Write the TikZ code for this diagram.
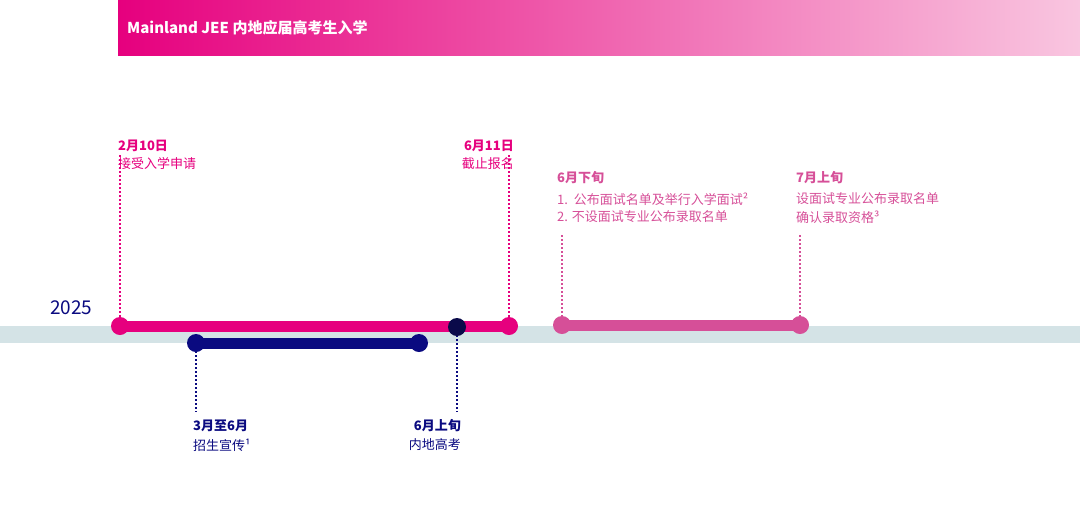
\documentclass[tikz,border=0pt]{standalone}
\usepackage{fontspec}
\setmainfont{Noto Sans CJK SC}
\usetikzlibrary{shadings}
\definecolor{hot}{HTML}{E6007E}
\definecolor{pk}{HTML}{D64F98}
\definecolor{navy}{HTML}{0A0A80}
\definecolor{dnavy}{HTML}{0A0A4A}
\definecolor{band}{HTML}{D4E3E6}
\definecolor{lite}{HTML}{F9C6E0}
\tikzset{x=1pt,y=-1pt,
 lbl/.style={inner sep=0pt,font=\fontsize{13}{15}\selectfont},
 dots/.style={line width=2pt,dash pattern=on 2pt off 2pt},
 bar/.style={line width=11pt,line cap=round}}
\begin{document}
\begin{tikzpicture}
\useasboundingbox (0,0) rectangle (1080,507);
\shade[left color=hot,right color=lite] (118,0) rectangle (1080,55);
\node[anchor=west,text=white,inner sep=0pt,font=\bfseries\fontsize{15}{17}\selectfont] (title) at (127,28) {Mainland JEE 内地应届高考生入学};
\fill[band] (0,326) rectangle (1080,343);
\node[anchor=west,text=navy,inner sep=0pt,font=\fontsize{19}{21}\selectfont] (yr) at (50,308) {2025};
% coordinates
\coordinate (a) at (120,326); \coordinate (b) at (509,326);
\coordinate (c) at (196,343); \coordinate (d) at (419,343);
\coordinate (e) at (562,325); \coordinate (f) at (800,325);
\coordinate (g) at (457,327);
\draw[dots,hot] (120,155) -- (a);
\draw[dots,hot] (509,155) -- (b);
\draw[dots,pk] (562,235) -- (e);
\draw[dots,pk] (800,235) -- (f);
\draw[dots,navy] (c) -- (196,412);
\draw[dots,navy] (g) -- (457,412);
\draw[bar,hot] (a) -- (b);
\draw[bar,navy] (c) -- (d);
\draw[bar,pk] (e) -- (f);
\fill[hot] (a) circle (9); \fill[hot] (b) circle (9);
\fill[navy] (c) circle (9); \fill[navy] (d) circle (9);
\fill[pk] (e) circle (9); \fill[pk] (f) circle (9);
\fill[dnavy] (g) circle (9);
% labels
\node[lbl,anchor=west,text=hot,font=\bfseries\fontsize{13}{15}\selectfont] (t1) at (118,146) {2月10日};
\node[lbl,anchor=west,text=hot] (t1b) at (118,164) {接受入学申请};
\node[lbl,anchor=east,text=hot,font=\bfseries\fontsize{13}{15}\selectfont] (t2) at (514,146) {6月11日};
\node[lbl,anchor=east,text=hot] (t2b) at (514,164) {截止报名};
\node[lbl,anchor=west,text=pk,font=\bfseries\fontsize{13}{15}\selectfont] (t3) at (557,178) {6月下旬};
\node[lbl,anchor=west,text=pk] (t3b) at (557,199) {1.\ \ 公布面试名单及举行入学面试²};
\node[lbl,anchor=west,text=pk] (t3c) at (557,217) {2. 不设面试专业公布录取名单};
\node[lbl,anchor=west,text=pk,font=\bfseries\fontsize{13}{15}\selectfont] (t4) at (796,178) {7月上旬};
\node[lbl,anchor=west,text=pk] (t4b) at (796,199) {设面试专业公布录取名单};
\node[lbl,anchor=west,text=pk] (t4c) at (796,217) {确认录取资格³};
\node[lbl,anchor=west,text=navy,font=\bfseries\fontsize{13}{15}\selectfont] (t5) at (193,426) {3月至6月};
\node[lbl,anchor=west,text=navy] (t5b) at (193,445) {招生宣传¹};
\node[lbl,anchor=east,text=navy,font=\bfseries\fontsize{13}{15}\selectfont] (t6) at (461,426) {6月上旬};
\node[lbl,anchor=east,text=navy] (t6b) at (461,445) {内地高考};
\end{tikzpicture}
\end{document}
